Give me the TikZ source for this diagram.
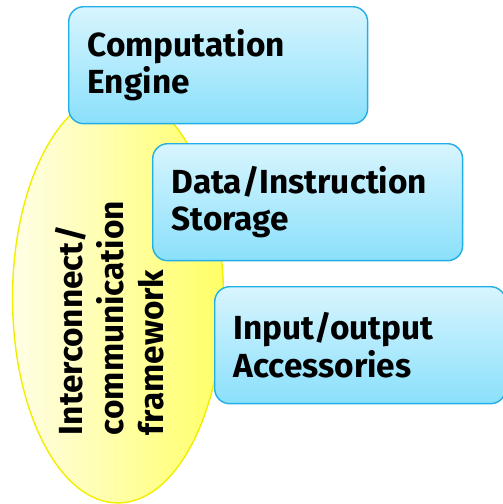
\documentclass[tikz,border=0pt]{standalone}
\usepackage{fontspec}
\setmainfont{Fira Sans}
\usetikzlibrary{%
  calc,shapes.geometric,%
  positioning}
\definecolor{boxtop}{HTML}{D8F5FE}
\definecolor{boxbot}{HTML}{8AE0FB}
\definecolor{boxline}{HTML}{22AEE6}
\definecolor{busleft}{HTML}{FFFEE6}
\definecolor{busright}{HTML}{FFFF66}
\definecolor{busline}{HTML}{F2EE00}
\tikzset {unitbox/.style={draw=boxline,line width=.8pt,
    rounded corners=.3cm,top color=boxtop,bottom color=boxbot,
    anchor=north west,minimum height=2.34cm,
    align=left,inner xsep=.38cm,text width=#1,
    font=\bfseries\fontsize{19}{21.2}\selectfont},
  unitbox/.default=5.2cm}

\begin{document}
\begin{tikzpicture}[x=.02cm,y=-.02cm]
\useasboundingbox (0,0) rectangle (503,504);
% the bus behind everything
\node[ellipse,draw=busline,line width=.8pt,
  left color=busleft,right color=busright,
  minimum width=4.22cm,minimum height=8.2cm] (bus) at (118,298) {};
\node[rotate=90,align=left,
  font=\bfseries\fontsize{19}{23}\selectfont] (buslabel) at (110,318)
  {Interconnect/\\communication\\framework};
% the three units
\node[unitbox=5.22cm] (engine) at (68,6)
  {Computation\\Engine};
\node[unitbox=5.44cm] (store) at (152,143)
  {Data/Instruction\\Storage};
\node[unitbox=5.06cm] (io) at (214,286)
  {Input/output\\Accessories};
\end{tikzpicture}
\end{document}
